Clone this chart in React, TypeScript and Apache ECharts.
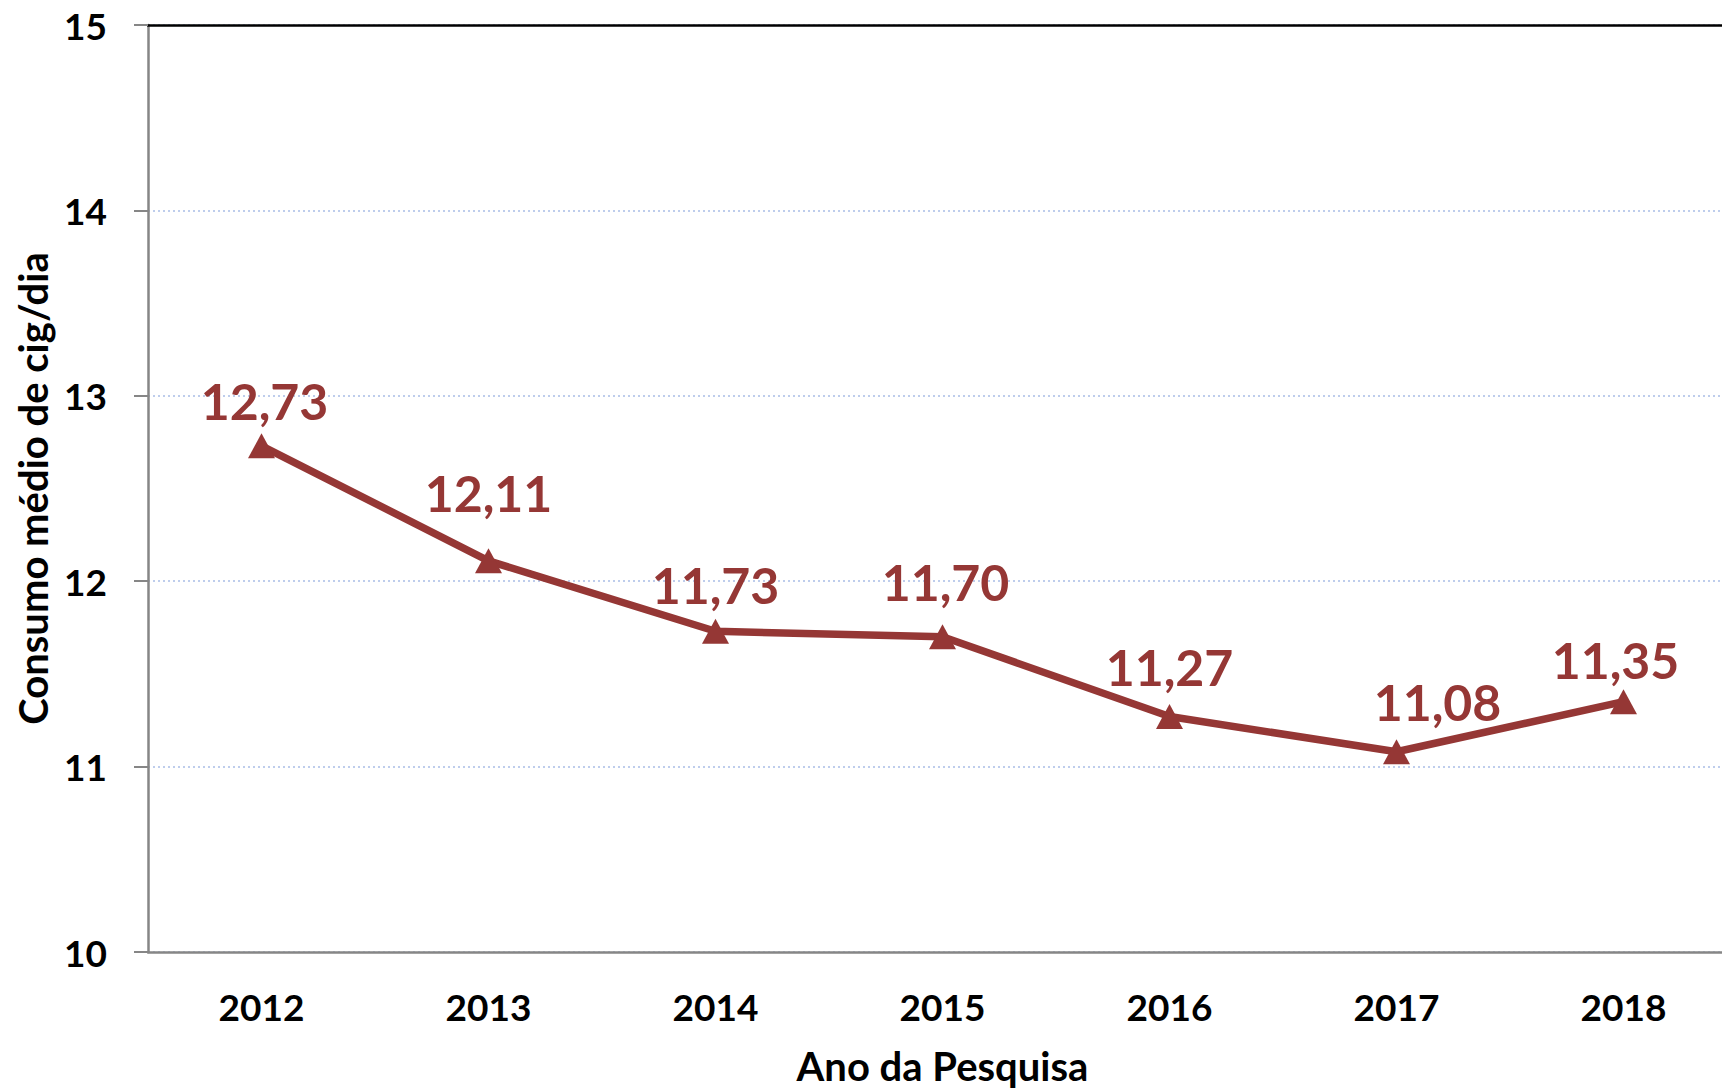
import React, { useEffect, useRef } from "react";
import * as echarts from "echarts";

const years = ["2012", "2013", "2014", "2015", "2016", "2017", "2018"];
const consumo = [12.73, 12.11, 11.73, 11.7, 11.27, 11.08, 11.35];
const yTicks = { min: 10, max: 15, interval: 1 };
// label nudges (dx, dy) relative to default top placement
const labelNudge: [number, number][] = [
  [3, -7],
  [0, -30],
  [0, -9],
  [3, -17],
  [0, -12],
  [41, -12],
  [-8, -4],
];

const RED = "#953735";
const FONT = "Lato";

export default function App() {
  const ref = useRef<HTMLDivElement>(null);
  useEffect(() => {
    document.body.style.margin = "0";
    const chart = echarts.init(ref.current!, null, { renderer: "svg" });
    chart.setOption({
      animation: false,
      backgroundColor: "#ffffff",
      grid: {
        left: 148,
        top: 25,
        width: 1589,
        bottom: 138,
        outerBoundsMode: "none",
        containLabel: false,
      },
      xAxis: [
        {
          type: "category",
          data: years,
          boundaryGap: true,
          name: "Ano da Pesquisa",
          nameLocation: "middle",
          nameGap: 94,
          nameTextStyle: {
            fontFamily: FONT,
            fontWeight: "bold",
            fontSize: 40,
            color: "#000",
          },
          axisLine: { lineStyle: { color: "#868686", width: 2.5 } },
          axisTick: { show: false },
          axisLabel: {
            fontFamily: FONT,
            fontWeight: "bold",
            fontSize: 37,
            color: "#000",
            margin: 36,
          },
          splitLine: { show: false },
        },
        {
          type: "category",
          data: years,
          position: "top",
          axisLine: { lineStyle: { color: "#000", width: 2.5 } },
          axisTick: { show: false },
          axisLabel: { show: false },
          splitLine: { show: false },
        },
      ],
      yAxis: {
        type: "value",
        min: yTicks.min,
        max: yTicks.max,
        interval: yTicks.interval,
        name: "Consumo médio de cig/dia",
        nameLocation: "middle",
        nameGap: 86,
        nameRotate: 90,
        nameTextStyle: {
          fontFamily: FONT,
          fontWeight: "bold",
          fontSize: 40,
          color: "#000",
        },
        axisLine: { show: true, lineStyle: { color: "#868686", width: 2.5 } },
        axisTick: {
          show: true,
          length: 14,
          lineStyle: { color: "#868686", width: 2 },
        },
        axisLabel: {
          fontFamily: FONT,
          fontWeight: "bold",
          fontSize: 37,
          color: "#000",
          margin: 41,
        },
        splitLine: {
          show: true,
          lineStyle: { color: "#a9bde6", width: 1.5, type: [2, 3] },
        },
      },
      series: [
        {
          type: "line",
          xAxisIndex: 0,
          data: consumo.map((v, i) => ({
            value: v,
            label: { offset: labelNudge[i] },
          })),
          symbol: "triangle",
          symbolSize: [27, 25],
          itemStyle: { color: RED },
          lineStyle: { color: RED, width: 7.5 },
          label: {
            show: true,
            position: "top",
            distance: 0,
            fontFamily: FONT,
            fontWeight: "bold",
            fontSize: 50,
            color: RED,
            formatter: (p: any) => p.value.toFixed(2).replace(".", ","),
          },
        },
      ],
    });
    return () => chart.dispose();
  }, []);
  return (
    <div
      ref={ref}
      style={{ position: "absolute", left: 0, top: 0, width: 1722, height: 1090 }}
    />
  );
}
